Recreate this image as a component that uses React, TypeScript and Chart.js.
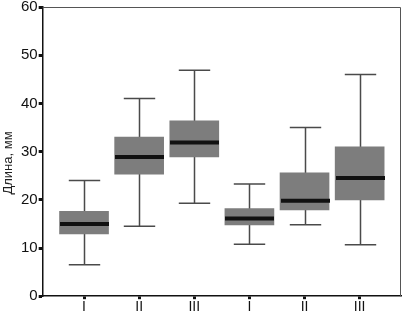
import React, { useEffect, useRef } from "react";
import { Chart, registerables } from "chart.js";

Chart.register(...registerables);

const categories = ["I", "II", "III", "I", "II", "III"];
const whiskerMin = [6.5, 14.5, 19.3, 10.8, 14.8, 10.7];
const q1 = [12.9, 25.3, 28.9, 14.8, 17.9, 20.0];
const median = [15.0, 28.9, 31.9, 16.1, 19.8, 24.5];
const q3 = [17.6, 33.0, 36.4, 18.2, 25.6, 31.0];
const whiskerMax = [24.0, 41.0, 46.9, 23.3, 35.0, 46.0];
const yTicks = [0, 10, 20, 30, 40, 50, 60];
const yTitle = "Длина, мм";

const FONT = "'Liberation Sans', Arial, sans-serif";

const boxPlugin = {
  id: "boxExtras",
  beforeDatasetsDraw(chart: any) {
    const { ctx, scales, chartArea } = chart;
    const x = scales.x;
    const y = scales.y;
    ctx.save();
    ctx.strokeStyle = "#555";
    ctx.lineWidth = 1;
    ctx.beginPath();
    ctx.moveTo(chartArea.left, chartArea.top + 0.5);
    ctx.lineTo(chartArea.right - 0.5, chartArea.top + 0.5);
    ctx.lineTo(chartArea.right - 0.5, chartArea.bottom);
    ctx.stroke();
    ctx.strokeStyle = "#4a4a4a";
    ctx.lineWidth = 1.5;
    const capHalf = x.getPixelForValue(1.285) - x.getPixelForValue(1);
    categories.forEach((_, i) => {
      const cx = Math.round(x.getPixelForValue(i + 1)) + 0.5;
      const yMin = y.getPixelForValue(whiskerMin[i]);
      const yMax = y.getPixelForValue(whiskerMax[i]);
      ctx.beginPath();
      ctx.moveTo(cx, yMin);
      ctx.lineTo(cx, yMax);
      ctx.moveTo(cx - capHalf, yMin);
      ctx.lineTo(cx + capHalf, yMin);
      ctx.moveTo(cx - capHalf, yMax);
      ctx.lineTo(cx + capHalf, yMax);
      ctx.stroke();
    });
    ctx.fillStyle = "#222";
    ctx.font = `13px ${FONT}`;
    ctx.textAlign = "center";
    ctx.textBaseline = "middle";
    ctx.translate(8, 163);
    ctx.rotate(-Math.PI / 2);
    ctx.fillText(yTitle, 0, 0);
    ctx.restore();
  },
  afterDatasetsDraw(chart: any) {
    const { ctx, scales } = chart;
    const x = scales.x;
    const y = scales.y;
    const half = 24.5;
    ctx.save();
    ctx.strokeStyle = "#111";
    ctx.lineWidth = 4;
    categories.forEach((_, i) => {
      const cx = Math.round(x.getPixelForValue(i + 1)) + 0.5;
      const my = y.getPixelForValue(median[i]);
      ctx.beginPath();
      ctx.moveTo(cx - half, my);
      ctx.lineTo(cx + half, my);
      ctx.stroke();
    });
    ctx.restore();
  },
};

export default function App() {
  const ref = useRef<HTMLCanvasElement>(null);
  useEffect(() => {
    if (!ref.current) return;
    const chart = new Chart(ref.current, {
      type: "bar",
      data: {
        datasets: [
          {
            data: categories.map((_, i) => ({ x: i + 1, y: [q1[i], q3[i]] })) as any,
            backgroundColor: "#7d7d7d",
            borderWidth: 0,
            barThickness: 49,
          },
        ],
      },
      options: {
        responsive: false,
        animation: false,
        layout: { padding: { top: 0, right: 4, left: 20, bottom: -1 } },
        plugins: { legend: { display: false }, tooltip: { enabled: false } },
        scales: {
          x: {
            type: "linear",
            offset: false,
            min: 0.25,
            max: 6.75,
            afterBuildTicks: (axis: any) => {
              axis.ticks = categories.map((_, i) => ({ value: i + 1 }));
            },
            ticks: {
              autoSkip: false,
              maxRotation: 0,
              callback: (_v: any, idx: number) => categories[idx],
              color: "#111",
              font: { family: FONT, size: 14 },
              padding: 0,
            },
            grid: {
              offset: false,
              drawOnChartArea: false,
              drawTicks: true,
              tickLength: 3,
              tickWidth: 3,
              tickColor: "#111",
            },
            border: { display: true, color: "#111", width: 1.5 },
          },
          y: {
            min: 0,
            max: 60,
            afterBuildTicks: (axis: any) => {
              axis.ticks = yTicks.map((v) => ({ value: v }));
            },
            afterFit: (axis: any) => {
              axis.paddingTop = 7;
            },
            ticks: {
              color: "#111",
              font: { family: FONT, size: 15 },
              padding: 1,
            },
            grid: {
              drawOnChartArea: false,
              drawTicks: true,
              tickLength: 4,
              tickWidth: 3,
              tickColor: "#111",
            },
            border: { display: true, color: "#111", width: 1.5 },
          },
        },
      },
      plugins: [boxPlugin],
    });
    return () => chart.destroy();
  }, []);
  return (
    <div style={{ position: "absolute", left: 0, top: 0, width: 405, height: 315, background: "#fff" }}>
      <canvas ref={ref} width={405} height={315} />
    </div>
  );
}
